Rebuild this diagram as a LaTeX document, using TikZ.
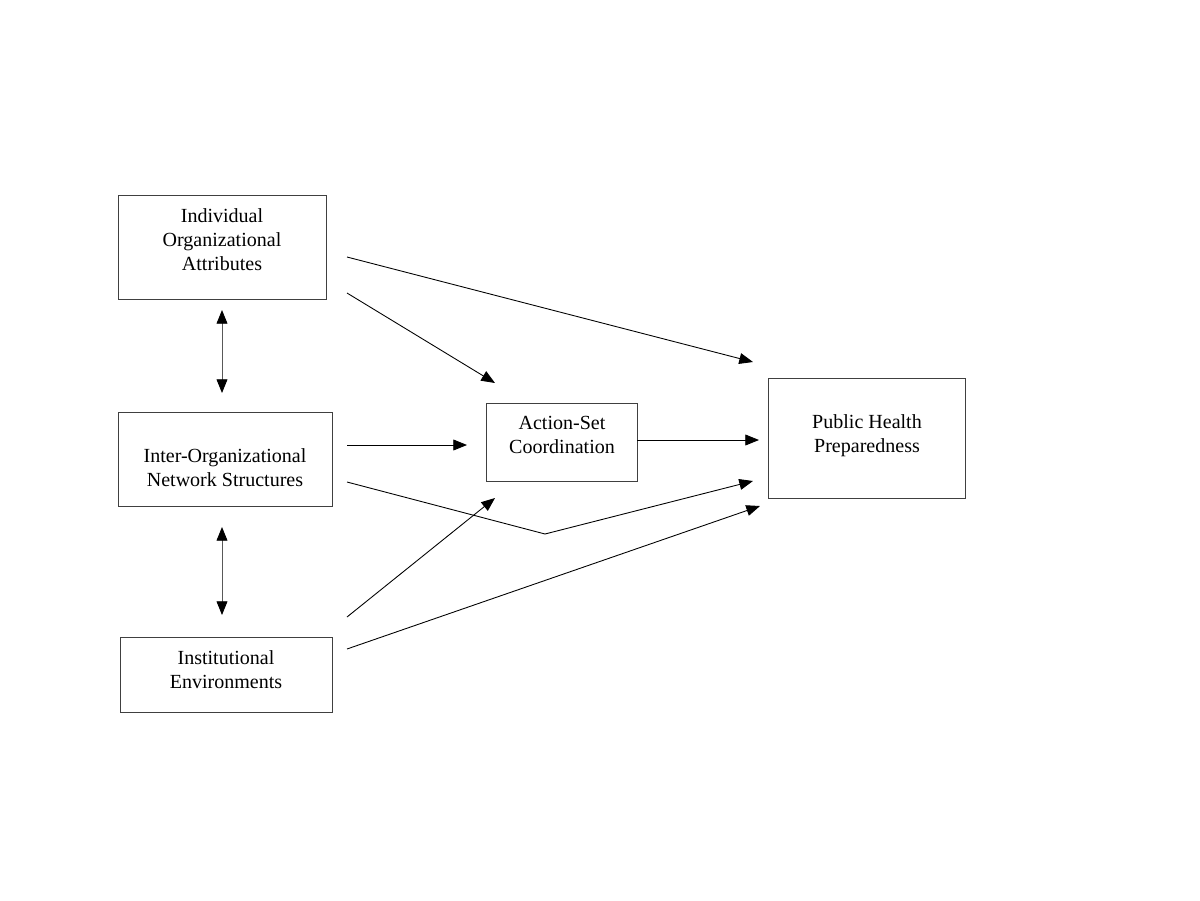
\documentclass[tikz,border=0pt]{standalone}
\usepackage{fontspec}
\setmainfont{Liberation Serif}
\usetikzlibrary{arrows.meta}
\begin{document}
\begin{tikzpicture}[x=0.02cm,y=-0.02cm,
  box/.style={draw=black!75, line width=0.5pt, inner sep=0pt},
  lbl/.style={inner sep=0pt, align=center, font=\fontsize{11.4}{13.66}\selectfont},
  conn/.style={line width=0.5pt, -{Triangle[length=7.8pt,width=6.2pt]}},
  biconn/.style={line width=0.5pt, draw=black!65,
    {Triangle[length=7.8pt,width=6.2pt,color=black]}-{Triangle[length=7.8pt,width=6.2pt,color=black]}}]
\useasboundingbox (0,0) rectangle (1200,900);
\node[box, minimum width=208*0.02cm, minimum height=104*0.02cm] (ioa) at (222,247) {};
\node[box, minimum width=214*0.02cm, minimum height=94*0.02cm] (ions) at (225,459) {};
\node[box, minimum width=212*0.02cm, minimum height=75*0.02cm] (ie) at (226,674.5) {};
\node[box, minimum width=151*0.02cm, minimum height=78*0.02cm] (asc) at (561.5,442) {};
\node[box, minimum width=197*0.02cm, minimum height=120*0.02cm] (php) at (866.5,438) {};

\node[lbl] (ioat) at (222,239.5) {Individual\\Organizational\\Attributes};
\node[lbl] (ionst) at (225,468) {Inter-Organizational\\Network Structures};
\node[lbl] (iet) at (226,670) {Institutional\\Environments};
\node[lbl] (asct) at (562,435) {Action-Set\\Coordination};
\node[lbl] (phpt) at (867,435.5) {Public Health\\Preparedness};

\coordinate (a1s) at (347,257); \coordinate (a1e) at (753,362);
\coordinate (a2s) at (347,293); \coordinate (a2e) at (495,383);
\coordinate (b1s) at (222,310); \coordinate (b1e) at (222,393);
\coordinate (a3s) at (347,445); \coordinate (a3e) at (467,445);
\coordinate (a4s) at (637,440); \coordinate (a4e) at (759,440);
\coordinate (a5s) at (347,482); \coordinate (a5m) at (545,534); \coordinate (a5e) at (753,481);
\coordinate (b2s) at (222,527); \coordinate (b2e) at (222,615);
\coordinate (a6s) at (347,617); \coordinate (a6e) at (495,498);
\coordinate (a7s) at (347,649); \coordinate (a7e) at (760,506);

\draw[conn] (a1s) -- (a1e);
\draw[conn] (a2s) -- (a2e);
\draw[biconn] (b1s) -- (b1e);
\draw[conn] (a3s) -- (a3e);
\draw[conn] (a4s) -- (a4e);
\draw[conn] (a5s) -- (a5m) -- (a5e);
\draw[biconn] (b2s) -- (b2e);
\draw[conn] (a6s) -- (a6e);
\draw[conn] (a7s) -- (a7e);
\end{tikzpicture}
\end{document}
